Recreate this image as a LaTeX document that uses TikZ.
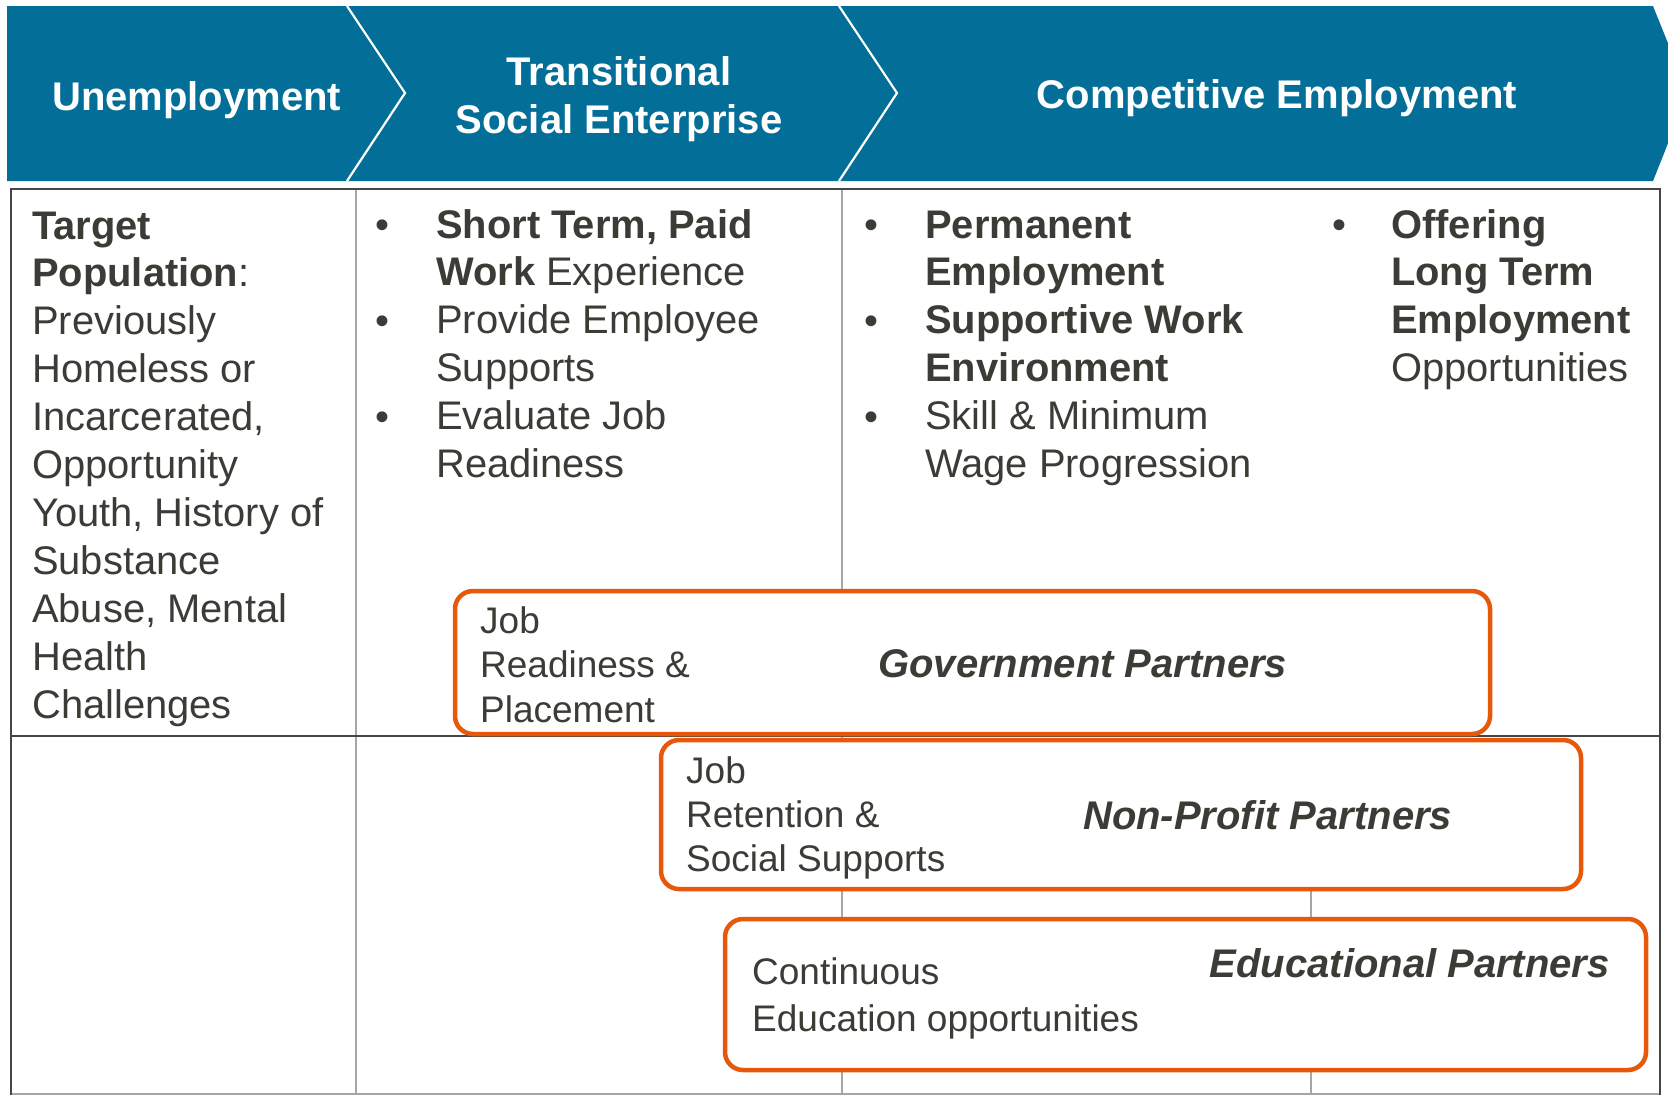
\documentclass[tikz,border=0pt]{standalone}
\usepackage{fontspec}
\setmainfont{Liberation Sans}
\definecolor{banner}{RGB}{3,110,151}
\definecolor{txt}{RGB}{60,60,55}
\definecolor{darkline}{RGB}{70,70,68}
\definecolor{lightline}{RGB}{168,166,158}
\definecolor{partner}{RGB}{232,88,10}
\newcommand\cellbox[2]{\parbox[t]{#1}{\raggedright #2}}
\tikzset{
  hdr/.style={text=white, inner sep=0, font=\fontsize{40}{48}\selectfont\bfseries},
  cell/.style={anchor=base west, inner sep=0, text=txt, font=\fontsize{39.9}{47.9}\selectfont},
  bul/.style={anchor=base, inner sep=0, text=txt, font=\fontsize{39.9}{47.9}\selectfont},
  smalltxt/.style={anchor=base west, inner sep=0, text=txt},
  plabel/.style={inner sep=0, text=txt, font=\fontsize{40}{48}\selectfont\bfseries\itshape},
  pbox/.style={draw=partner, line width=4.5pt, rounded corners=18pt, fill=white},
  gridline/.style={draw=lightline, line width=2pt},
  frameline/.style={draw=darkline, line width=2.5pt},
  chev/.style={draw=white, line width=2.2pt},
}
\begin{document}
\begin{tikzpicture}[x=1pt,y=-1pt]
\useasboundingbox[fill=white] (0,0) rectangle (1668,1096);
\begin{scope}
\clip (0,0) rectangle (1668,1096);
% banner
\fill[banner] (7,6) -- (1653,6) -- (1688,93) -- (1653,181) -- (7,181) -- cycle;
\end{scope}
\draw[chev] (347,6) -- (405,93) -- (347,181);
\draw[chev] (839,6) -- (897,93) -- (839,181);
\node[hdr, anchor=base west] (hu) at (52,110) {Unemployment};
\node[hdr, anchor=base] (ht1) at (619,85) {Transitional};
\node[hdr, anchor=base] (ht2) at (619,133) {Social Enterprise};
\node[hdr, anchor=base] (hc) at (1277,108) {Competitive Employment};

% table grid
\draw[gridline] (356,189) -- (356,1095);
\draw[gridline] (842,189) -- (842,1095);
\draw[gridline] (1311,890) -- (1311,1095);
\draw[gridline] (11,1094) -- (1660,1094);
\draw[frameline] (11,1095) -- (11,189) -- (1660,189) -- (1660,1095);
\draw[frameline, line width=2pt] (11,736) -- (1660,736);

% partner boxes
\draw[pbox] (455,591) rectangle (1490,734);
\draw[pbox] (661,740) rectangle (1581,889);
\draw[pbox] (725,919) rectangle (1646,1070);

% column 1
\node[cell] (c1) at (32,239) {\cellbox{320pt}{\textbf{Target}\\\textbf{Population}:\\Previously\\Homeless or\\Incarcerated,\\Opportunity\\Youth, History of\\Substance\\Abuse, Mental\\Health\\Challenges}};

% column 2
\node[bul] (b21) at (382,238) {•};
\node[bul] (b22) at (382,334) {•};
\node[bul] (b23) at (382,430) {•};
\node[cell] (c2) at (436,238) {\cellbox{400pt}{\textbf{Short Term, Paid}\\\textbf{Work} Experience\\Provide Employee\\Supports\\Evaluate Job\\Readiness}};

% column 3
\node[bul] (b31) at (871,238) {•};
\node[bul] (b32) at (871,334) {•};
\node[bul] (b33) at (871,430) {•};
\node[cell] (c3) at (925,238) {\cellbox{400pt}{\textbf{Permanent}\\\textbf{Employment}\\\textbf{Supportive Work}\\\textbf{Environment}\\Skill \& Minimum\\Wage Progression}};

% column 4
\node[bul] (b41) at (1339,238) {•};
\node[cell] (c4) at (1391,238) {\cellbox{300pt}{\textbf{Offering}\\\textbf{Long Term}\\\textbf{Employment}\\Opportunities}};

% box texts
\node[smalltxt, font=\fontsize{37}{44.5}\selectfont] (t1) at (480,633) {\cellbox{300pt}{Job\\Readiness \&\\Placement}};
\node[plabel, anchor=base west] (p1) at (878,677) {Government Partners};
\node[smalltxt, font=\fontsize{37}{44}\selectfont] (t2) at (686,783) {\cellbox{300pt}{Job\\Retention \&\\Social Supports}};
\node[plabel, anchor=base west] (p2) at (1083,829) {Non-Profit Partners};
\node[smalltxt, font=\fontsize{37}{47}\selectfont] (t3) at (752,984) {\cellbox{450pt}{Continuous\\Education opportunities}};
\node[plabel, anchor=base east] (p3) at (1610,977) {Educational Partners};
\end{tikzpicture}
\end{document}
